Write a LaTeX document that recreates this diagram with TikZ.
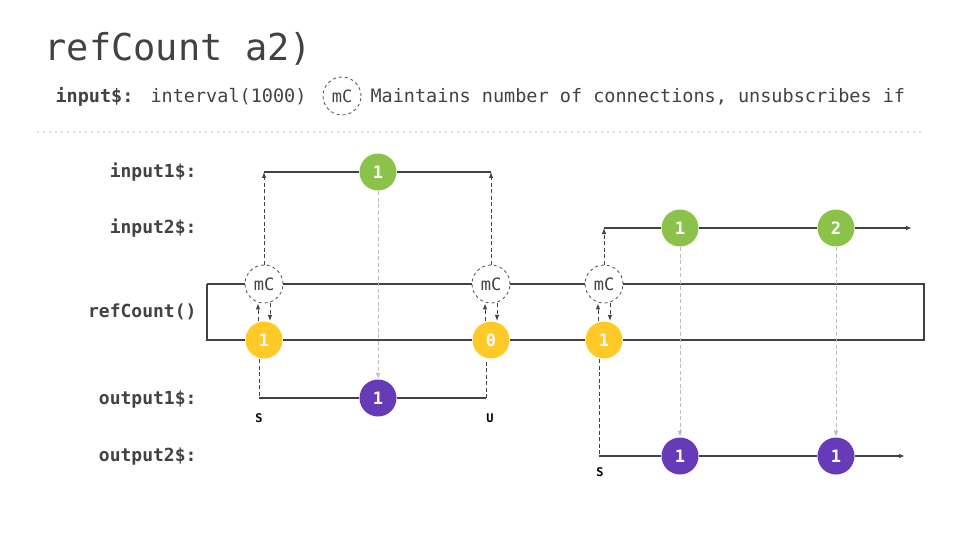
\documentclass[tikz,border=0pt]{standalone}
\usepackage{fontspec}
\setmainfont{DejaVu Sans Mono}
\setmonofont{DejaVu Sans Mono}
\usetikzlibrary{arrows.meta}
\definecolor{ink}{HTML}{424242}
\definecolor{grn}{HTML}{8BC34A}
\definecolor{ylw}{HTML}{FFCA28}
\definecolor{prp}{HTML}{673AB7}
\definecolor{hint}{HTML}{BDBDBD}

\begin{document}
\begin{tikzpicture}[x=1pt, y=-1pt, color=ink, line width=1.1pt, >={Latex[length=6pt,width=4.5pt]},
  marble/.style={circle, minimum size=37pt, inner sep=0pt, text=white, font=\fontsize{17}{17}\selectfont\bfseries},
  mcnode/.style={circle, draw=ink!85, dashed, line width=0.9pt, fill=white, minimum size=38pt, inner sep=0pt, font=\fontsize{17}{17}\selectfont},
  rowlabel/.style={anchor=east, inner sep=0pt, font=\fontsize{18}{18}\selectfont\bfseries},
  tick/.style={font=\fontsize{12}{12}\selectfont\bfseries, text=black},
  hop/.style={dashed, line width=0.9pt, dash pattern=on 4pt off 2.5pt}]
  \useasboundingbox (0,0) rectangle (960,540);

  % header
  \node [anchor=base west, inner sep=0pt, font=\fontsize{37}{37}\selectfont] (title) at (44,61) {refCount a2)};
  \node [anchor=base west, inner sep=0pt, font=\fontsize{18.5}{18.5}\selectfont\bfseries] (inlbl) at (55,103) {input\$:};
  \node [anchor=base west, inner sep=0pt, font=\fontsize{18.5}{18.5}\selectfont] (inval) at (150,103) {interval(1000)};
  \node [mcnode] (mkey) at (342,96) {mC};
  \node [anchor=base west, inner sep=0pt, font=\fontsize{18.5}{18.5}\selectfont] (keytxt) at (370,103) {Maintains number of connections, unsubscribes if};
  \coordinate (sepa) at (38,132);
  \coordinate (sepb) at (920,132);
  \draw [hint, line width=1.6pt, line cap=round, dash pattern=on 0pt off 6pt] (sepa) -- (sepb);

  % row labels
  \node [rowlabel] (l1) at (197,172) {input1\$:};
  \node [rowlabel] (l2) at (197,228) {input2\$:};
  \node [rowlabel] (l3) at (197,312) {refCount()};
  \node [rowlabel] (l4) at (197,400) {output1\$:};
  \node [rowlabel] (l5) at (197,457) {output2\$:};

  % marbles
  \node [marble, fill=grn] (g1) at (378,172) {1};
  \node [marble, fill=grn] (g2) at (680,228) {1};
  \node [marble, fill=grn] (g3) at (836,228) {2};
  \node [mcnode] (m1) at (264,284) {mC};
  \node [mcnode] (m2) at (491,284) {mC};
  \node [mcnode] (m3) at (604,284) {mC};
  \node [marble, fill=ylw] (y1) at (264,340) {1};
  \node [marble, fill=ylw] (y2) at (491,340) {0};
  \node [marble, fill=ylw] (y3) at (604,340) {1};
  \node [marble, fill=prp] (p1) at (378,398) {1};
  \node [marble, fill=prp] (p2) at (680,456) {1};
  \node [marble, fill=prp] (p3) at (836,456) {1};

  \node [tick] (s1) at (259,418) {S};
  \node [tick] (u1) at (490,418) {U};
  \node [tick] (s2) at (600,472) {S};

  % line ends
  \coordinate (i1a) at (264,172);
  \coordinate (i1b) at (491,172);
  \coordinate (i2a) at (604,228);
  \coordinate (i2b) at (912,228);
  \coordinate (ba) at (207,284);
  \coordinate (bb) at (924,284);
  \coordinate (bc) at (924,340);
  \coordinate (bd) at (207,340);
  \coordinate (o1a) at (259,398);
  \coordinate (o1b) at (486,398);
  \coordinate (o2a) at (599,456);
  \coordinate (o2b) at (905,456);

  % timelines
  \draw (i1a) -- (g1) -- (i1b);
  \draw [->] (i2a) -- (g2) -- (g3) -- (i2b);
  \draw (ba) -- (m1) -- (m2) -- (m3) -- (bb) -- (bc) -- (y3) -- (y2) -- (y1) -- (bd) -- (ba);
  \draw (o1a) -- (p1) -- (o1b);
  \draw [->] (o2a) -- (p2) -- (p3) -- (o2b);

  % subscriptions
  \draw [hop, ->] (m1) -- (i1a);
  \draw [hop, ->] (m2) -- (i1b);
  \draw [hop, ->] (m3) -- (i2a);
  \draw [hop, ->] ([xshift=-6pt]y1.north) -- ([xshift=-6pt]m1.south);
  \draw [hop, ->] ([xshift=6pt]m1.south) -- ([xshift=6pt]y1.north);
  \draw [hop, ->] ([xshift=-6pt]y2.north) -- ([xshift=-6pt]m2.south);
  \draw [hop, ->] ([xshift=6pt]m2.south) -- ([xshift=6pt]y2.north);
  \draw [hop, ->] ([xshift=-6pt]y3.north) -- ([xshift=-6pt]m3.south);
  \draw [hop, ->] ([xshift=6pt]m3.south) -- ([xshift=6pt]y3.north);
  \draw [hop] ([xshift=-5pt]y1.south) -- (o1a);
  \draw [hop] (o1b) -- ([xshift=-5pt]y2.south);
  \draw [hop] ([xshift=-5pt]y3.south) -- (o2a);

  % values passed on
  \draw [hop, hint, ->] (g1) -- (p1);
  \draw [hop, hint, ->] (g2) -- (p2);
  \draw [hop, hint, ->] (g3) -- (p3);
\end{tikzpicture}
\end{document}
